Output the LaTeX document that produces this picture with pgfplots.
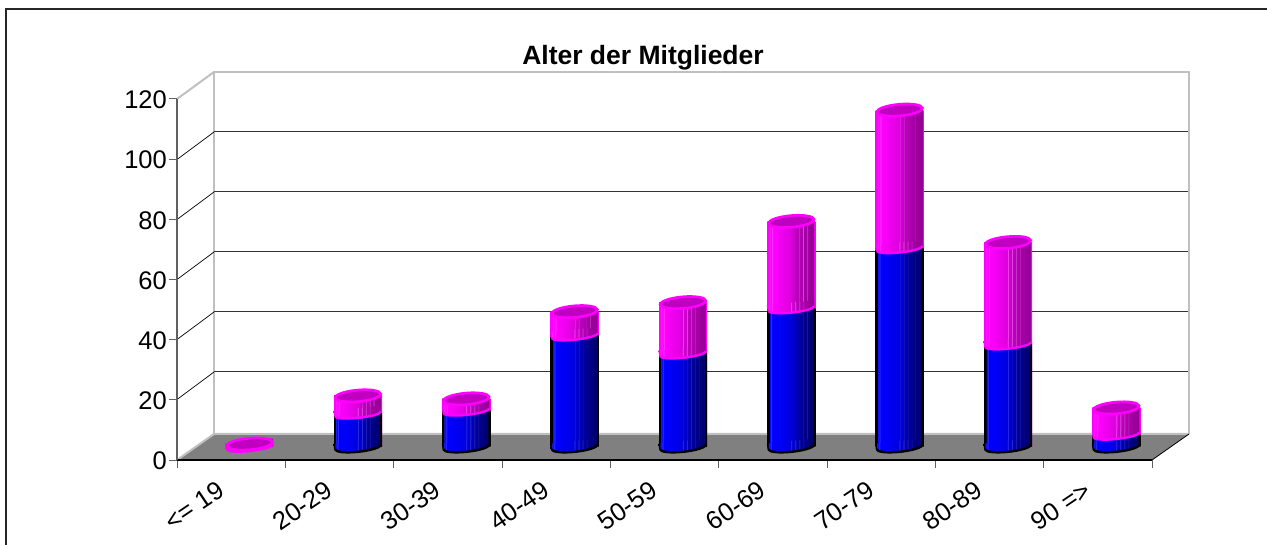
\documentclass[border=0pt]{standalone}
\usepackage{pgfplots}
\pgfplotsset{compat=1.18}
\usepackage{pgfplotstable}
\usepackage{fontspec}
\setmainfont{Liberation Sans}
\pgfdeclarehorizontalshading{bluecyl}{100bp}{rgb(0bp)=(0,0,0);rgb(27bp)=(0,0,0);rgb(27.01bp)=(.12,.12,1);rgb(28bp)=(0,0,1);rgb(29bp)=(.2,.2,1);rgb(30bp)=(0,0,1);rgb(40bp)=(0,0,.95);rgb(49.9bp)=(0,0,.86);rgb(50bp)=(.15,.15,.9);rgb(50.6bp)=(0,0,.82);rgb(54bp)=(0,0,.78);rgb(54.1bp)=(.18,.18,.85);rgb(54.7bp)=(0,0,.72);rgb(58bp)=(0,0,.66);rgb(58.1bp)=(.18,.18,.75);rgb(58.7bp)=(0,0,.62);rgb(62bp)=(0,0,.58);rgb(62.1bp)=(.18,.18,.68);rgb(62.7bp)=(0,0,.55);rgb(66bp)=(0,0,.52);rgb(66.1bp)=(.16,.16,.6);rgb(66.7bp)=(0,0,.5);rgb(72.8bp)=(0,0,.42);rgb(72.81bp)=(0,0,0);rgb(100bp)=(0,0,0)}
\pgfdeclarehorizontalshading{pinkcyl}{100bp}{rgb(0bp)=(1,0,1);rgb(26.5bp)=(1,0,1);rgb(27bp)=(1,.1,1);rgb(29bp)=(1,0,1);rgb(30bp)=(1,.2,1);rgb(31bp)=(1,0,1);rgb(40bp)=(.93,0,.93);rgb(49.9bp)=(.86,0,.86);rgb(50bp)=(.92,.25,.92);rgb(50.6bp)=(.82,0,.82);rgb(54bp)=(.78,0,.78);rgb(54.1bp)=(.88,.3,.88);rgb(54.7bp)=(.74,0,.74);rgb(58bp)=(.72,0,.72);rgb(58.1bp)=(.84,.3,.84);rgb(58.7bp)=(.7,0,.7);rgb(62bp)=(.68,0,.68);rgb(62.1bp)=(.8,.3,.8);rgb(62.7bp)=(.66,0,.66);rgb(66bp)=(.64,0,.64);rgb(66.1bp)=(.76,.28,.76);rgb(66.7bp)=(.62,0,.62);rgb(73.5bp)=(.58,0,.58);rgb(73.51bp)=(1,0,1);rgb(100bp)=(1,0,1)}
\newcommand\joint[4]{%
  \begin{pgfscope}%
  \pgftransformrotate{6}%
  \pgfpathmoveto{\pgfqpoint{-24pt}{0pt}}%
  \pgfpatharc{180}{360}{24pt and #4}%
  \pgfpathlineto{\pgfqpoint{24pt}{6pt}}%
  \pgfpathlineto{\pgfqpoint{-24pt}{6pt}}%
  \pgfpathclose
  \pgfshadepath{#1}{0}%
  \pgfusepath{discard}%
  \end{pgfscope}%
  \pgftransformrotate{6}%
  \pgfsetstrokecolor{#2}%
  \pgfsetlinewidth{#3}%
  \pgfpathmoveto{\pgfqpoint{-23pt}{0pt}}%
  \pgfpatharc{180}{360}{23pt and #4}%
  \pgfusepathqstroke}
\definecolor{mag}{RGB}{255,0,255}
\definecolor{capfill}{RGB}{192,0,192}
\pgfdeclareplotmark{bluebase}{\joint{bluecyl}{black}{2.4pt}{4.8pt}}
\pgfdeclareplotmark{pinkjoint}{\joint{pinkcyl}{mag}{2.4pt}{4pt}}
\pgfdeclareplotmark{topcap}{%
  \pgftransformrotate{5}%
  \pgfsetfillcolor{capfill}%
  \pgfsetstrokecolor{mag}%
  \pgfsetlinewidth{2.6pt}%
  \pgfpathellipse{\pgfpointorigin}{\pgfqpoint{22.8pt}{0pt}}{\pgfqpoint{0pt}{5.8pt}}%
  \pgfusepathqfillstroke}
\definecolor{wallgray}{HTML}{C0C0C0}
\definecolor{floorgray}{HTML}{808080}
\definecolor{axgray}{HTML}{606060}
\pgfplotstableread{
x blue total
0.5 0 1
1.5 11 17
2.5 12 16
3.5 37 45
4.5 31 48
5.5 46 75
6.5 66 112
7.5 34 68
8.5 4 13
}\agedata
\newcommand\pinkbar[2]{\addplot[ybar,draw=none,shade,shading=pinkcyl,restrict x to domain=#1:#2] table[x=x,y=total]{\agedata};}
\newcommand\bluebar[2]{\addplot[ybar,draw=none,shade,shading=bluecyl,restrict x to domain=#1:#2] table[x=x,y=blue]{\agedata};}
\begin{document}
\begin{tikzpicture}[x=1pt,y=1pt]
\useasboundingbox (0,0) rectangle (1267,544);
\fill[white] (0,0) rectangle (1267,544);
\draw[black!85,line width=1.4pt] (6,-5) -- (6,535) -- (1267,535);
\fill[floorgray] (177,84) -- (1152,84) -- (1189,110) -- (214,110) -- cycle;
\draw[wallgray,line width=2pt] (214,110) -- (214,472) -- (1189,472) -- (1189,110);
\draw[wallgray,line width=2pt] (177,84) -- (214,110) -- (1189,110);
\draw[black,line width=0.8pt] (1152,84) -- (1189,110);
\draw[wallgray,line width=2pt] (177,445) -- (214,472);
\foreach \y in {172,232,292,352,412}{%
  \draw[black!80,line width=1pt] (214,\y) -- (1188,\y);
  \draw[black,line width=0.7pt] (177,\y-27.5) -- (214,\y);
}
\begin{axis}[
  at={(177pt,84pt)},anchor=south west,
  scale only axis,width=975pt,height=361pt,
  xmin=0,xmax=9,ymin=0,ymax=120,
  axis x line=bottom,axis y line=left,
  x axis line style={-,black,line width=1.4pt},
  y axis line style={-,axgray,line width=1.6pt},
  xtick={0,...,9},ytick={0,20,...,120},
  xticklabels={{<= 19},{20-29},{30-39},{40-49},{50-59},{60-69},{70-79},{80-89},{90 =>}},
  x tick label as interval,
  major tick length=8pt,
  tick style={axgray,line width=1pt},
  tick align=outside,
  tick label style={font=\fontsize{25.5}{30}\selectfont},
  /pgf/number format/assume math mode=true,
  yticklabel style={inner sep=1pt,xshift=-1pt,yshift=-1pt},
  xticklabel style={rotate=34,anchor=east,xshift=-19pt,yshift=-10.6pt,inner sep=0pt},
  clip=false,
]
\end{axis}
\node[font=\bfseries\fontsize{26.5}{30}\selectfont] at (643,486.5) {Alter der Mitglieder};
\begin{axis}[
  at={(195.5pt,97pt)},anchor=south west,
  scale only axis,width=975pt,height=361pt,
  xmin=0,xmax=9,ymin=0,ymax=120,
  hide axis,clip=false,
  bar width=48pt,bar shift=0pt,
]
\pinkbar{0.4}{0.6}\pinkbar{1.4}{1.6}\pinkbar{2.4}{2.6}\pinkbar{3.4}{3.6}\pinkbar{4.4}{4.6}\pinkbar{5.4}{5.6}\pinkbar{6.4}{6.6}\pinkbar{7.4}{7.6}\pinkbar{8.4}{8.6}
\bluebar{1.4}{1.6}\bluebar{2.4}{2.6}\bluebar{3.4}{3.6}\bluebar{4.4}{4.6}\bluebar{5.4}{5.6}\bluebar{6.4}{6.6}\bluebar{7.4}{7.6}\bluebar{8.4}{8.6}
\addplot[only marks,mark=bluebase,restrict x to domain=1:9] table[x=x,y expr=0]{\agedata};
\addplot[only marks,mark=pinkjoint] table[x=x,y=blue]{\agedata};
\addplot[only marks,mark=topcap] table[x=x,y=total]{\agedata};
\end{axis}
\end{tikzpicture}
\end{document}
